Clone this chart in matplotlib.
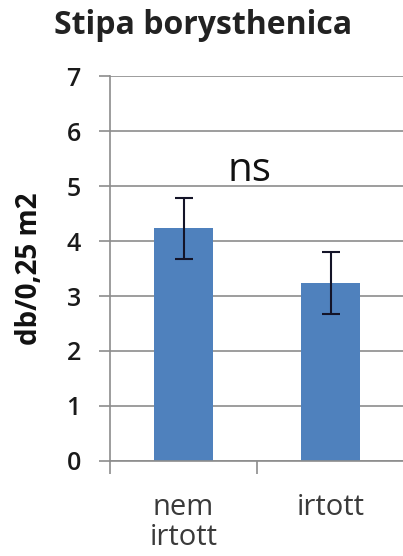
import matplotlib
matplotlib.use("Agg")
import matplotlib.pyplot as plt
import numpy as np

title = "Stipa borysthenica"
categories = ["nem\nirtott", "irtott"]
means = [4.23, 3.24]
errors = [0.55, 0.56]
yticks = [0, 1, 2, 3, 4, 5, 6, 7]
ylabel = "db/0,25 m2"
annotation = "ns"

plt.rcParams["font.family"] = ["Open Sans", "DejaVu Sans"]

fig = plt.figure(figsize=(4.03, 5.56), dpi=100)
ax = fig.add_axes([0.273, 0.171, 0.73, 0.692])

x = np.arange(len(categories)) + 0.5
ax.bar(x, means, width=0.4, color="#4f81bd", zorder=2)
ax.errorbar(x, means, yerr=errors, fmt="none", ecolor="#141428",
            elinewidth=1.5, capsize=6.5, capthick=1.5, zorder=3)

ax.set_xlim(0, 2)
ax.set_ylim(0, 7)
ax.set_yticks(yticks)
ax.set_yticklabels([str(t) for t in yticks], fontsize=18, fontweight="semibold",
                   color="#1a1a1a")
ax.yaxis.grid(True, color="#8c8c8c", linewidth=1.2, zorder=0)
ax.set_axisbelow(True)

ax.set_xticks([0, 1, 2])
ax.set_xticklabels([])
ax.set_xticks(x, minor=True)
ax.set_xticklabels(categories, minor=True, fontsize=21, color="#3a3a3a",
                   linespacing=1.05)
ax.tick_params(axis="x", which="minor", length=0, pad=23)
ax.tick_params(axis="x", which="major", length=9, width=1.2, color="#8c8c8c",
               direction="out")
ax.tick_params(axis="y", length=8, width=1.2, color="#8c8c8c", pad=13)

for side in ["top", "right"]:
    ax.spines[side].set_visible(False)
for side in ["left", "bottom"]:
    ax.spines[side].set_color("#8c8c8c")
    ax.spines[side].set_linewidth(1.2)

ax.set_ylabel(ylabel, fontsize=20, fontweight="bold", color="#111111",
              labelpad=16)
ax.text(0.946, 5.09, annotation, ha="center", va="baseline", fontsize=29,
        color="#111111")
fig.text(0.503, 0.955, title, ha="center", va="center", fontsize=23,
         fontweight="bold", color="#222222")

fig.savefig("out.png", dpi=100)
